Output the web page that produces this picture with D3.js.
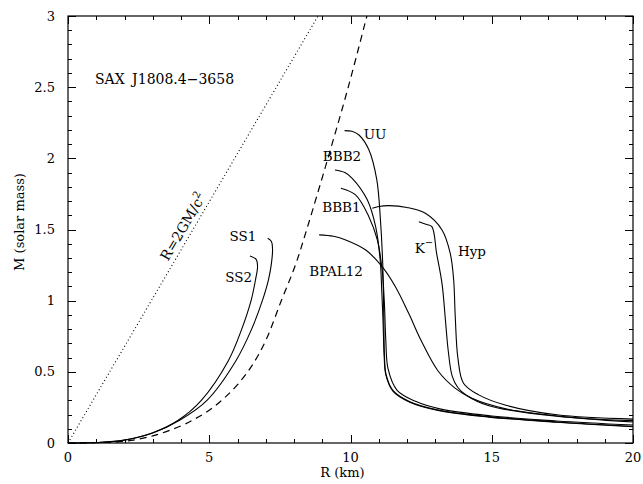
<!DOCTYPE html>
<html>
<head>
<meta charset="utf-8">
<script src="https://cdn.jsdelivr.net/npm/d3@7"></script>
<style>
  body { margin: 0; background: #fff; }
  svg text { font-family: 'DejaVu Serif', serif; fill: #000; }
</style>
</head>
<body>
<script>
// mass-radius curves, points are [R (km), M (solar mass)]
let schwarzschild = [[0, 0], [8.85, 3]]
let dashedLimit = [[0, 0], [1, 0.002], [2, 0.012], [3, 0.05], [4, 0.12], [4.5, 0.17], [5, 0.23], [5.5, 0.31], [6, 0.41], [6.5, 0.54], [7.0, 0.72], [7.55, 1.0], [8.05, 1.25], [8.45, 1.5], [9.2, 2.0], [9.92, 2.5], [10.58, 3.0]]
let ss1 = [[0, 0], [1, 0.003], [2, 0.02], [3, 0.07], [3.95, 0.16], [4.92, 0.3], [5.95, 0.58], [6.5, 0.8], [6.88, 1.0], [7.1, 1.15], [7.2, 1.26], [7.24, 1.36], [7.2, 1.415], [7.07, 1.438]]
let ss2 = [[0, 0], [1, 0.003], [2, 0.021], [3, 0.072], [3.9, 0.16], [4.72, 0.3], [5.68, 0.58], [6.15, 0.8], [6.48, 1.0], [6.64, 1.15], [6.71, 1.24], [6.66, 1.29], [6.44, 1.314]]
let uu = [[9.79, 2.195], [10.05, 2.19], [10.3, 2.164], [10.65, 2.06], [10.93, 1.85], [11.06, 1.567], [11.14, 1.263], [11.18, 0.864], [11.2, 0.62], [11.26, 0.48], [11.5, 0.37], [12.1, 0.29], [13.1, 0.232], [14.9, 0.185], [17.3, 0.148], [20, 0.118]]
let bbb2 = [[9.45, 1.918], [9.8, 1.9], [10.06, 1.86], [10.59, 1.71], [10.89, 1.52], [11.05, 1.286], [11.11, 1.05], [11.15, 0.864], [11.19, 0.62], [11.25, 0.48], [11.5, 0.365], [12.1, 0.287], [13.1, 0.229], [14.9, 0.182], [17.3, 0.146], [20, 0.114]]
let bbb1 = [[9.66, 1.79], [10.18, 1.743], [10.65, 1.59], [10.95, 1.427], [11.12, 1.216], [11.2, 0.98], [11.25, 0.72], [11.33, 0.52], [11.65, 0.37], [12.3, 0.293], [13.2, 0.238], [15, 0.19], [17.3, 0.155], [20, 0.126]]
let bpal12 = [[8.89, 1.462], [9.4, 1.452], [9.83, 1.427], [10.54, 1.356], [11.12, 1.239], [11.59, 1.098], [12.06, 0.911], [12.5, 0.72], [13.1, 0.506], [13.7, 0.386], [14.3, 0.314], [15.5, 0.24], [17.9, 0.178], [20, 0.148]]
let hyp = [[10.77, 1.649], [11.0, 1.662], [11.36, 1.668], [12.0, 1.655], [12.65, 1.614], [13.24, 1.497], [13.53, 1.333], [13.65, 1.15], [13.71, 0.878], [13.8, 0.6], [14.0, 0.42], [14.54, 0.338], [15.5, 0.265], [17.3, 0.198], [20, 0.168]]
let kMinus = [[12.42, 1.555], [12.7, 1.535], [12.88, 1.52], [13.05, 1.33], [13.24, 1.12], [13.36, 0.864], [13.46, 0.648], [13.6, 0.47], [13.8, 0.39], [14.1, 0.336], [14.9, 0.262], [17.3, 0.188], [20, 0.157]]

let solidCurves = [ss1, ss2, uu, bbb2, bbb1, bpal12, hyp, kMinus]

// axis ticks
let xMajor = [0, 5, 10, 15, 20]
let xMinor = d3.range(0, 21, 1)
let yMajor = [0, 0.5, 1, 1.5, 2, 2.5, 3]
let yMinor = d3.range(0, 31, 1).map(function (d) { return d / 10 })

// curve labels, placed in data coordinates
let curveLabels = [
  { text: 'SS1', r: 6.19, m: 1.454 },
  { text: 'SS2', r: 6.04, m: 1.166 },
  { text: 'UU', r: 10.87, m: 2.171 },
  { text: 'BBB2', r: 9.7, m: 2.016 },
  { text: 'BBB1', r: 9.68, m: 1.658 },
  { text: 'BPAL12', r: 9.49, m: 1.208 },
  { text: 'Hyp', r: 14.3, m: 1.349 }
]

function buildChart () {
  let width = 643
  let height = 484
  let left = 68, right = 633, top = 16, bottom = 443

  let svg = d3.select('body').append('svg')
    .attr('width', width)
    .attr('height', height)

  let x = d3.scaleLinear().domain([0, 20]).range([left, right])
  let y = d3.scaleLinear().domain([0, 3]).range([bottom, top])

  // inward ticks on all four sides, drawn as one path
  // (minor every 1 km / 0.1 Msun, major ones longer)
  let tickPath = d3.path()
  function addXTicks (values, len) {
    values.forEach(function (d) {
      let px = Math.round(x(d)) + 0.5
      tickPath.moveTo(px, bottom)
      tickPath.lineTo(px, bottom - len)
      tickPath.moveTo(px, top)
      tickPath.lineTo(px, top + len)
    })
  }
  function addYTicks (values, len) {
    values.forEach(function (d) {
      let py = Math.round(y(d)) + 0.5
      tickPath.moveTo(left, py)
      tickPath.lineTo(left + len, py)
      tickPath.moveTo(right, py)
      tickPath.lineTo(right - len, py)
    })
  }
  addXTicks(xMinor, 4)
  addXTicks(xMajor, 8)
  addYTicks(yMinor, 4)
  addYTicks(yMajor, 8)

  svg.append('path')
    .attr('d', tickPath.toString())
    .attr('fill', 'none')
    .attr('stroke', '#000')
    .attr('stroke-width', 1)

  // frame
  svg.append('rect')
    .attr('x', left).attr('y', top)
    .attr('width', right - left).attr('height', bottom - top)
    .attr('fill', 'none').attr('stroke', '#000').attr('stroke-width', 1.2)

  // tick labels
  svg.append('g').selectAll('text')
    .data(xMajor)
    .enter()
    .append('text')
    .attr('x', function (d) { return x(d) })
    .attr('y', 462)
    .attr('text-anchor', 'middle')
    .attr('font-size', 13)
    .text(function (d) { return d })

  svg.append('g').selectAll('text')
    .data(yMajor)
    .enter()
    .append('text')
    .attr('x', 55)
    .attr('y', function (d) { return y(d) + 4.5 })
    .attr('text-anchor', 'end')
    .attr('font-size', 13)
    .text(function (d) { return d })

  // axis titles
  svg.append('text')
    .attr('x', (left + right) / 2 - 8)
    .attr('y', 477)
    .attr('text-anchor', 'middle')
    .attr('font-size', 13)
    .text('R (km)')

  svg.append('text')
    .attr('transform', 'translate(24,222) rotate(-90)')
    .attr('text-anchor', 'middle')
    .attr('font-size', 13)
    .text('M (solar mass)')

  let line = d3.line()
    .x(function (d) { return x(d[0]) })
    .y(function (d) { return y(d[1]) })
    .curve(d3.curveCatmullRom.alpha(0.5))

  let plot = svg.append('g')

  plot.append('path')
    .datum(schwarzschild)
    .attr('d', d3.line().x(function (d) { return x(d[0]) }).y(function (d) { return y(d[1]) }))
    .attr('fill', 'none')
    .attr('stroke', '#000')
    .attr('stroke-width', 1.1)
    .attr('stroke-dasharray', '1,2.6')

  plot.append('path')
    .datum(dashedLimit)
    .attr('d', line)
    .attr('fill', 'none')
    .attr('stroke', '#000')
    .attr('stroke-width', 1.2)
    .attr('stroke-dasharray', '7,5')

  plot.selectAll('.mr')
    .data(solidCurves)
    .enter()
    .append('path')
    .attr('class', 'mr')
    .attr('d', line)
    .attr('fill', 'none')
    .attr('stroke', '#000')
    .attr('stroke-width', 1.1)

  // labels
  svg.append('g').selectAll('text')
    .data(curveLabels)
    .enter()
    .append('text')
    .attr('x', function (d) { return x(d.r) })
    .attr('y', function (d) { return y(d.m) + 5 })
    .attr('text-anchor', 'middle')
    .attr('font-size', 13.5)
    .text(function (d) { return d.text })

  let k = svg.append('text')
    .attr('x', x(12.6))
    .attr('y', y(1.37) + 5)
    .attr('text-anchor', 'middle')
    .attr('font-size', 13.5)
  k.append('tspan').text('K')
  k.append('tspan').attr('dy', -7).attr('font-size', 10).text('−')

  svg.append('text')
    .attr('x', 95)
    .attr('y', 84)
    .attr('font-size', 14)
    .attr('word-spacing', 3)
    .text('SAX J1808.4−3658')

  let rs = svg.append('text')
    .attr('transform', 'translate(' + x(4.07) + ',' + y(1.521) + ') rotate(-59.5)')
    .attr('text-anchor', 'middle')
    .attr('dy', 5)
    .attr('font-size', 14)
  rs.append('tspan').text('R=2GM/c')
  rs.append('tspan').attr('dy', -6).attr('font-size', 10).text('2')
}

buildChart()
</script>
</body>
</html>
